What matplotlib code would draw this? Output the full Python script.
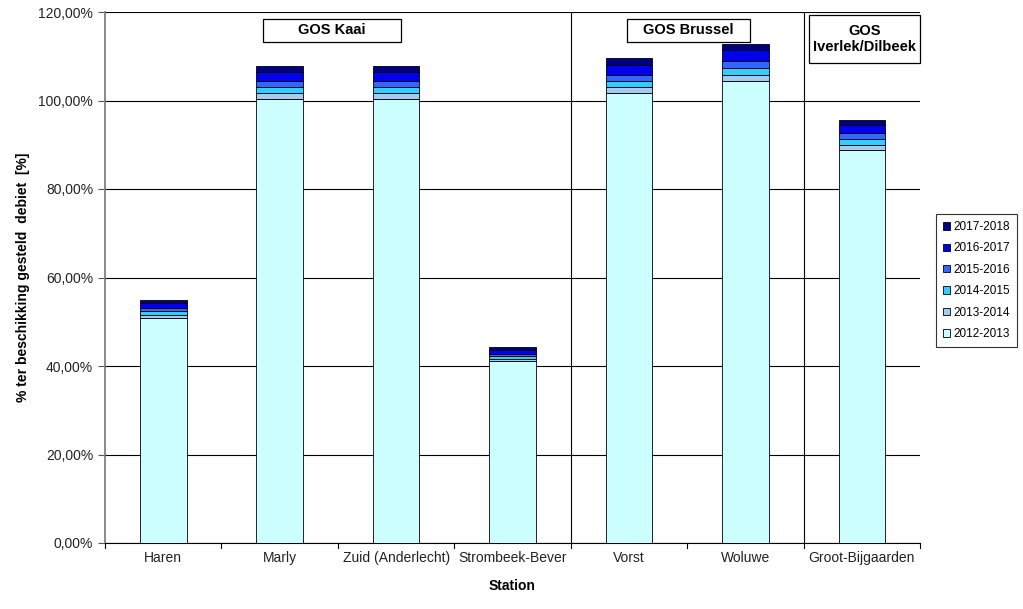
import matplotlib
matplotlib.use("Agg")
import matplotlib.pyplot as plt
from matplotlib.ticker import FuncFormatter
from matplotlib.patches import Rectangle
import numpy as np

plt.rcParams['font.family'] = ['Liberation Sans', 'DejaVu Sans']

stations = ["Haren", "Marly", "Zuid (Anderlecht)", "Strombeek-Bever",
            "Vorst", "Woluwe", "Groot-Bijgaarden"]
seasons = ["2012-2013", "2013-2014", "2014-2015", "2015-2016", "2016-2017", "2017-2018"]
v2012 = [50.8, 100.3, 100.3, 41.1, 101.7, 104.4, 88.8]
v2013 = [0.8, 1.3, 1.3, 0.5, 1.3, 1.4, 1.2]
v2014 = [0.8, 1.5, 1.5, 0.6, 1.3, 1.5, 1.4]
v2015 = [0.8, 1.4, 1.4, 0.6, 1.5, 1.6, 1.2]
v2016 = [1.0, 2.0, 2.0, 0.8, 2.2, 2.4, 1.8]
v2017 = [0.7, 1.3, 1.3, 0.7, 1.6, 1.5, 1.2]
series = [v2012, v2013, v2014, v2015, v2016, v2017]
colors = ["#CCFFFF", "#A6CAF0", "#33CCFF", "#3366FF", "#0000EE", "#000080"]

groups = ["GOS Kaai", "GOS Brussel", "GOS\nIverlek/Dilbeek"]

W, H = 1023, 609
fig = plt.figure(figsize=(W / 100, H / 100), dpi=100)
ax = fig.add_axes([105 / W, 1 - 543 / H, 815 / W, 531 / H])

x = np.arange(len(stations))
bottom = np.zeros(len(stations))
handles = []
for vals, c, lab in zip(series, colors, seasons):
    h = ax.bar(x, vals, 0.4, bottom=bottom, color=c, edgecolor="black",
               linewidth=0.6, label=lab, zorder=3)
    handles.append(h)
    bottom += np.array(vals)

ax.set_xlim(-0.5, len(stations) - 0.5)
ax.set_ylim(0, 120)
ax.set_yticks(np.arange(0, 121, 20))
ax.yaxis.set_major_formatter(FuncFormatter(lambda v, p: f"{v:.2f}".replace(".", ",") + "%"))
ax.yaxis.grid(True, color="black", linewidth=0.8, zorder=0)
ax.set_xticks(x)
ax.set_xticklabels(stations, fontsize=10, color="#222222")
ax.tick_params(axis='x', length=0, pad=6)
ax.tick_params(axis='y', length=5, width=0.8, labelsize=10, color="#555555",
               labelcolor="#222222")
for p in np.arange(-0.5, len(stations), 1.0):
    ax.plot([p, p], [0, -1.2], color="black", lw=0.8, clip_on=False)

for s in ["top", "right"]:
    ax.spines[s].set_visible(False)
ax.spines["left"].set_color("#777777")
ax.spines["left"].set_linewidth(1.2)
ax.spines["bottom"].set_linewidth(0.8)

# group separators
for p in [3.5, 5.5]:
    ax.axvline(p, color="black", lw=0.8, zorder=2)

# group label boxes (pixel boxes: left, top, right, bottom)
boxes = [(263, 19, 401, 42), (627, 19, 750, 42), (809, 15, 920, 63)]
for (l, t, r, b), txt in zip(boxes, groups):
    rect = Rectangle((l / W, 1 - b / H), (r - l) / W, (b - t) / H,
                     transform=fig.transFigure, facecolor="white",
                     edgecolor="black", lw=0.9, zorder=5)
    fig.add_artist(rect)
    fig.text((l + r) / 2 / W, 1 - (t + b) / 2 / H, txt, ha="center", va="center",
             fontsize=10.5, fontweight="bold", linespacing=1.25, zorder=6)

ax.set_xlabel("Station", fontsize=10, fontweight="bold", labelpad=10)
ax.set_ylabel("% ter beschikking gesteld  debiet  [%]", fontsize=10,
              fontweight="bold", labelpad=6)

leg = fig.legend(handles[::-1], seasons[::-1], loc="upper left",
                 bbox_to_anchor=(930 / W, 1 - 208 / H), fontsize=8.5,
                 frameon=True, fancybox=False, edgecolor="black",
                 handlelength=0.6, handleheight=0.6, handletextpad=0.3,
                 labelspacing=0.8, borderpad=0.6)
leg.get_frame().set_linewidth(0.8)

fig.savefig("out.png", dpi=100)
